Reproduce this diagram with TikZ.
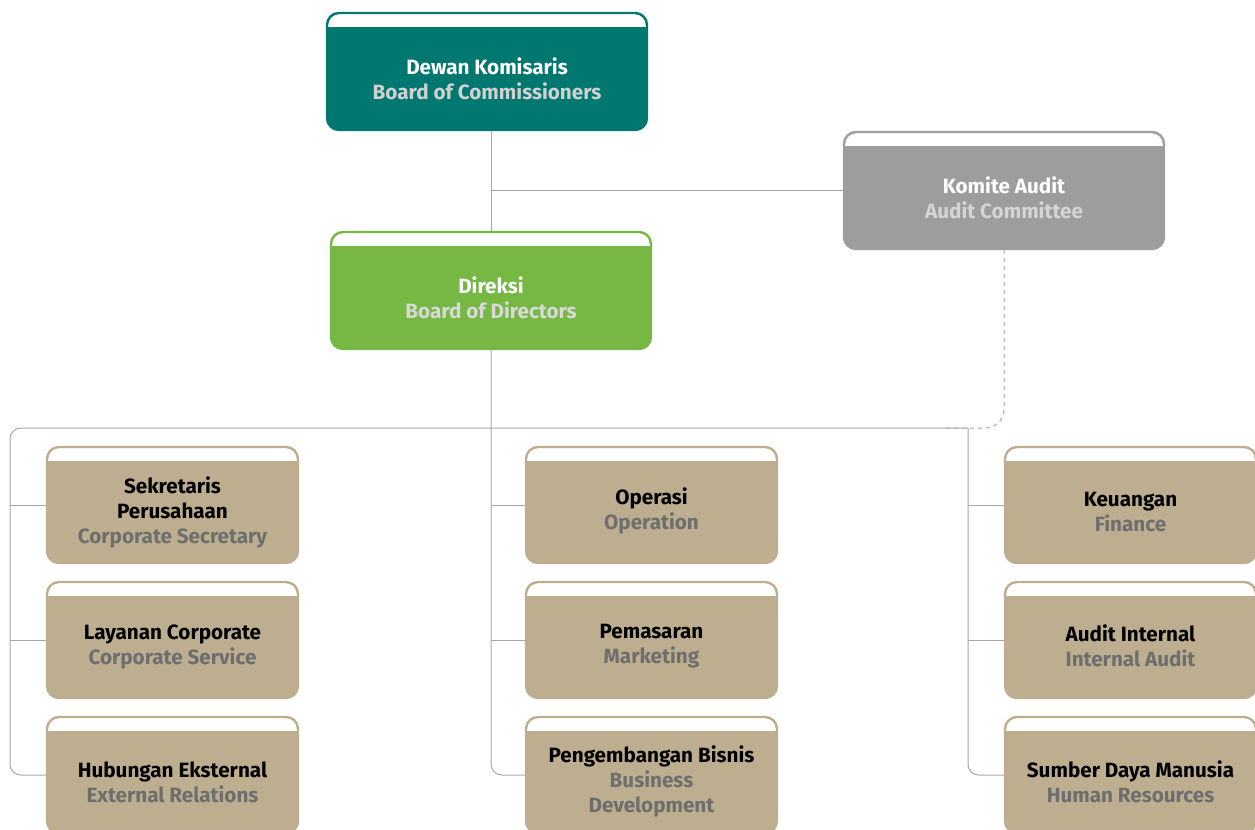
\documentclass[tikz,border=0pt]{standalone}
\usepackage{fontspec}
\setmainfont{Fira Sans}
\definecolor{cteal}{HTML}{00786F}
\definecolor{cgreen}{HTML}{76B843}
\definecolor{cgray}{HTML}{9D9D9C}
\definecolor{ctan}{HTML}{BDAE8F}
\definecolor{subteal}{HTML}{D0D0D0}
\definecolor{subgreen}{HTML}{D8D8D8}
\definecolor{subgray}{HTML}{D4D4D4}
\definecolor{subtan}{HTML}{6E6E6E}
\definecolor{cline}{HTML}{A6A6A6}
\tikzset{
  orgbox/.style={rectangle, rounded corners=9pt, line width=1.8pt, draw=#1, fill=#1,
    path picture={\fill[white, sharp corners] (path picture bounding box.north west) rectangle ([yshift=-10.4pt]path picture bounding box.north east);}},
  topbox/.style={orgbox=#1, minimum width=240pt, minimum height=87.75pt},
  unitbox/.style={orgbox=ctan, minimum width=188.25pt, minimum height=87pt},
  lbl/.style={align=center, font=\bfseries\fontsize{15.5}{18.75}\selectfont, text=#1},
  conn/.style={draw=cline, line width=0.75pt},
  dconn/.style={draw=cline, line width=0.75pt, dash pattern=on 3pt off 3pt}
}
\begin{document}
\begin{tikzpicture}[x=0.75pt,y=-0.75pt]
\useasboundingbox (0,0) rectangle (1255,830);
% top boxes
\node[topbox=cteal] (dk) at (487,71.5) {};
\node[topbox=cgray] (ka) at (1004,190.5) {};
\node[topbox=cgreen] (dr) at (491,290.5) {};
\node[lbl=white] (dkt) at (487,79) {Dewan Komisaris\\\textcolor{subteal}{Board of Commissioners}};
\node[lbl=white] (kat) at (1004,197.5) {Komite Audit\\\textcolor{subgray}{Audit Committee}};
\node[lbl=white] (drt) at (491,297.5) {Direksi\\\textcolor{subgreen}{Board of Directors}};
% unit boxes
\node[unitbox] (sp) at (172.5,505) {};
\node[unitbox] (lc) at (172.5,640) {};
\node[unitbox] (he) at (172.5,775) {};
\node[unitbox] (op) at (651.5,505) {};
\node[unitbox] (pm) at (651.5,640) {};
\node[unitbox] (pb) at (651.5,775) {};
\node[unitbox] (ku) at (1130.5,505) {};
\node[unitbox] (ai) at (1130.5,640) {};
\node[unitbox] (sd) at (1130.5,775) {};
\node[lbl=black] (spt) at (172.5,512) {Sekretaris\\Perusahaan\\\textcolor{subtan}{Corporate Secretary}};
\node[lbl=black] (lct) at (172.5,647) {Layanan Corporate\\\textcolor{subtan}{Corporate Service}};
\node[lbl=black] (het) at (172.5,782) {Hubungan Eksternal\\\textcolor{subtan}{External Relations}};
\node[lbl=black] (opt) at (651.5,511) {Operasi\\\textcolor{subtan}{Operation}};
\node[lbl=black] (pmt) at (651.5,646) {Pemasaran\\\textcolor{subtan}{Marketing}};
\node[lbl=black] (pbt) at (651.5,781) {Pengembangan Bisnis\\\textcolor{subtan}{Business}\\\textcolor{subtan}{Development}};
\node[lbl=black] (kut) at (1130.5,512) {Keuangan\\\textcolor{subtan}{Finance}};
\node[lbl=black] (ait) at (1130.5,646) {Audit Internal\\\textcolor{subtan}{Internal Audit}};
\node[lbl=black] (sdt) at (1130.5,782) {Sumber Daya Manusia\\\textcolor{subtan}{Human Resources}};
% coordinates
\coordinate (bl) at (10,428);
\coordinate (br) at (968,428);
\coordinate (de) at (945,428);
% connectors
\draw[conn] (dr.north) -- (dr.north |- dk.south);
\draw[conn] (dr.north |- ka.west) -- (ka.west);
\draw[conn, rounded corners=8pt] (dr.south) |- (pb.west);
\draw[conn, rounded corners=8pt] (he.west) -| (bl) -- (br);
\draw[conn, rounded corners=8pt] (br) |- (sd.west);
\draw[dconn, rounded corners=14pt] (ka.south) |- (de);
\draw[conn] (sp.west) -- (sp.west -| bl);
\draw[conn] (lc.west) -- (lc.west -| bl);
\draw[conn] (op.west) -- (op.west -| dr.south);
\draw[conn] (pm.west) -- (pm.west -| dr.south);
\draw[conn] (ku.west) -- (ku.west -| br);
\draw[conn] (ai.west) -- (ai.west -| br);
\end{tikzpicture}
\end{document}
